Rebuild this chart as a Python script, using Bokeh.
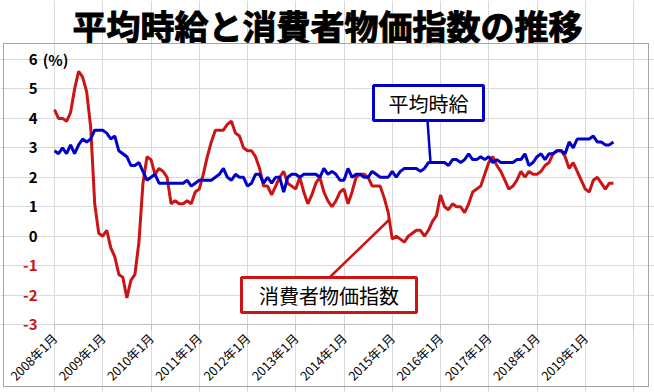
import math
from bokeh.plotting import figure
from bokeh.models import (FixedTicker, Label, LinearAxis, Range1d, InlineStyleSheet)
from bokeh.embed import file_html
from bokeh.resources import INLINE

# ---------------- data ----------------
title_text = "平均時給と消費者物価指数の推移"
tick_labels = ["2008年1月", "2009年1月", "2010年1月", "2011年1月", "2012年1月",
               "2013年1月", "2014年1月", "2015年1月", "2016年1月", "2017年1月",
               "2018年1月", "2019年1月"]
wage_name = "平均時給"
cpi_name = "消費者物価指数"

# 平均時給 (前年同月比, %) 2008年1月〜2019年8月
wage = [2.9, 2.8, 3.0, 2.8, 3.1, 2.8, 3.1, 3.3, 3.2, 3.3, 3.6, 3.6,
        3.6, 3.5, 3.3, 3.4, 2.9, 2.8, 2.7, 2.4, 2.4, 2.5, 2.2, 1.9,
        2.0, 2.1, 1.8, 1.8, 1.8, 1.8, 1.8, 1.8, 1.8, 1.9, 1.7, 1.8,
        1.9, 1.9, 1.9, 1.9, 2.0, 2.1, 2.3, 2.0, 1.9, 2.1, 2.0, 2.0,
        1.7, 1.8, 2.1, 2.1, 1.8, 2.0, 1.8, 2.0, 2.0, 1.5, 2.0, 2.1,
        2.1, 2.0, 2.1, 2.1, 2.1, 2.1, 2.0, 2.3, 2.1, 2.2, 2.1, 1.9,
        1.9, 2.3, 2.0, 2.1, 2.1, 2.0, 2.0, 2.2, 2.1, 2.0, 2.0, 2.0,
        2.2, 2.0, 2.2, 2.3, 2.3, 2.3, 2.3, 2.2, 2.3, 2.5, 2.5, 2.5,
        2.5, 2.5, 2.4, 2.6, 2.6, 2.5, 2.6, 2.8, 2.6, 2.6, 2.7, 2.6,
        2.7, 2.5, 2.6, 2.5, 2.5, 2.5, 2.5, 2.6, 2.6, 2.8, 2.4, 2.5,
        2.7, 2.8, 2.6, 2.8, 2.8, 2.9, 2.9, 2.8, 3.2, 3.0, 3.3, 3.3,
        3.3, 3.3, 3.4, 3.2, 3.2, 3.1, 3.1, 3.2]

# 消費者物価指数 (前年同月比, %)
cpi = [4.3, 4.0, 4.0, 3.9, 4.2, 5.0, 5.6, 5.4, 4.9, 3.7, 1.1, 0.1,
       0.0, 0.2, -0.4, -0.7, -1.3, -1.4, -2.1, -1.5, -1.3, -0.2, 1.8, 2.7,
       2.6, 2.1, 2.3, 2.2, 2.0, 1.1, 1.2, 1.1, 1.1, 1.2, 1.1, 1.5,
       1.6, 2.1, 2.7, 3.2, 3.6, 3.6, 3.6, 3.8, 3.9, 3.5, 3.4, 3.0,
       2.9, 2.9, 2.7, 2.3, 1.7, 1.7, 1.4, 1.7, 2.0, 2.2, 1.8, 1.7,
       1.6, 2.0, 1.5, 1.1, 1.4, 1.8, 2.0, 1.5, 1.2, 1.0, 1.2, 1.5,
       1.6, 1.1, 1.5, 2.0, 2.1, 2.1, 2.0, 1.7, 1.7, 1.7, 1.3, 0.8,
       -0.1, 0.0, -0.1, -0.2, 0.0, 0.1, 0.2, 0.2, 0.0, 0.2, 0.5, 0.7,
       1.4, 1.0, 0.9, 1.1, 1.0, 1.0, 0.8, 1.1, 1.5, 1.6, 1.7, 2.1,
       2.5, 2.7, 2.4, 2.2, 1.9, 1.6, 1.7, 1.9, 2.2, 2.0, 2.2, 2.1,
       2.1, 2.2, 2.4, 2.5, 2.8, 2.9, 2.9, 2.7, 2.3, 2.5, 2.2, 1.9,
       1.6, 1.5, 1.9, 2.0, 1.8, 1.6, 1.8, 1.8]

y_ticks_pos = [0, 1, 2, 3, 4, 5, 6]
y_ticks_neg = [-3, -2, -1]
y_unit = "(%)"

months = list(range(len(wage)))
x_ticks = list(range(0, 12 * (len(tick_labels) + 1), 12))
y_min, y_max = -3, 6

# pixel geometry of the plotting area inside the 654x392 canvas
W, H = 654, 392
PX_LEFT, PX_RIGHT, PX_TOP, PX_BOTTOM = 54, 633, 59, 324
ppx = (PX_RIGHT - PX_LEFT) / x_ticks[-1]          # pixels per month
ppy = (PX_BOTTOM - PX_TOP) / (y_max - y_min)        # pixels per %
x_lo = x_ticks[0] - PX_LEFT / ppx
x_hi = x_ticks[-1] + (W - PX_RIGHT) / ppx
y_lo = y_min - (H - PX_BOTTOM) / ppy
y_hi = y_max + PX_TOP / ppy


def dx(px):  # canvas pixel -> data x
    return x_lo + px / ppx


def dy(py):  # canvas pixel -> data y
    return y_hi - py / ppy


BLUE = "#0000C8"
RED = "#CC1414"
GRID = "#D9D9D9"
JP = "Noto Sans CJK JP"

frame_css = InlineStyleSheet(css="""
:host { position: relative; }
:host::after {
  content: ""; position: absolute; left: 3px; top: 43px;
  width: 646px; height: 344px; border: 1px solid #A6A6A6;
  pointer-events: none; box-sizing: border-box;
}
""")

p = figure(width=W, height=H, output_backend="svg", toolbar_location=None,
           x_range=Range1d(x_lo, x_hi), y_range=Range1d(y_lo, y_hi),
           min_border=0, x_axis_location=None, y_axis_location=None,
           stylesheets=[frame_css])
p.outline_line_color = None
p.background_fill_color = "white"
p.border_fill_color = "white"

# grid limited to the plotting area
p.xgrid.ticker = FixedTicker(ticks=x_ticks)
p.ygrid.ticker = FixedTicker(ticks=y_ticks_neg + y_ticks_pos)
p.xgrid.bounds = (y_min, y_max)
p.ygrid.bounds = (x_ticks[0], x_ticks[-1])
p.xgrid.grid_line_color = GRID
p.ygrid.grid_line_color = GRID

# x axis along y = -3
xa = LinearAxis(ticker=FixedTicker(ticks=x_ticks), fixed_location=y_min,
                bounds=(x_ticks[0], x_ticks[-1]))
xa.major_label_overrides = {t: (tick_labels[k] if k < len(tick_labels) else "")
                            for k, t in enumerate(x_ticks)}
xa.major_label_orientation = math.pi / 4
xa.major_label_text_font = JP
xa.major_label_text_font_size = "12.5px"
xa.major_label_text_color = "black"
xa.axis_line_color = "#BFBFBF"
xa.major_tick_line_color = "#BFBFBF"
xa.major_tick_out = 5
xa.major_tick_in = 0
xa.minor_tick_line_color = None
xa.major_label_standoff = 6
p.add_layout(xa, "below")


def y_label_axis(ticks, color, loc, overrides=None, size="15px"):
    ax = LinearAxis(ticker=FixedTicker(ticks=ticks), fixed_location=loc)
    ax.axis_line_color = None
    ax.major_tick_line_color = None
    ax.minor_tick_line_color = None
    ax.major_tick_out = 0
    ax.major_tick_in = 0
    ax.minor_tick_out = 0
    ax.minor_tick_in = 0
    ax.major_label_standoff = 0
    ax.major_label_text_font = JP
    ax.major_label_text_font_size = size
    ax.major_label_text_font_style = "bold"
    ax.major_label_text_color = color
    if overrides:
        ax.major_label_overrides = overrides
    p.add_layout(ax, "left")
    return ax


# y tick labels: right edge 17px left of the plotting area
y_label_axis(y_ticks_pos, "black", dx(37))
y_label_axis(y_ticks_neg, RED, dx(37),
             overrides={t: "-" + str(abs(t)) for t in y_ticks_neg})
y_label_axis([y_ticks_pos[-1]], "black", dx(68),
             overrides={y_ticks_pos[-1]: y_unit}, size="15px")

# title
p.add_layout(Label(x=dx(W / 2), y=dy(25), text=title_text, text_align="center",
                   text_baseline="middle", text_font=JP, text_font_size="34px",
                   text_font_style="bold", text_color="black",
                   text_outline_color="black"))

# series
p.line(months, cpi, line_color=RED, line_width=3)
p.line(months, wage, line_color=BLUE, line_width=3)

# callouts
p.line([dx(427), dx(430)], [dy(120), dy(162)], line_color=BLUE, line_width=2.5)
p.line([dx(329), dx(389)], [dy(277), dy(219)], line_color=RED, line_width=2.5)
p.quad(left=dx(373), right=dx(483), top=dy(85), bottom=dy(120),
       fill_color="white", line_color=BLUE, line_width=3)
p.quad(left=dx(241), right=dx(416), top=dy(277), bottom=dy(312),
       fill_color="white", line_color=RED, line_width=3)
p.add_layout(Label(x=dx(428), y=dy(102.5), text=wage_name, text_align="center",
                   text_baseline="middle", text_font=JP, text_font_size="20px",
                   text_color="black"))
p.add_layout(Label(x=dx(328.5), y=dy(294.5), text=cpi_name, text_align="center",
                   text_baseline="middle", text_font=JP, text_font_size="20px",
                   text_color="black"))

open("out.html", "w").write(file_html(p, INLINE))
